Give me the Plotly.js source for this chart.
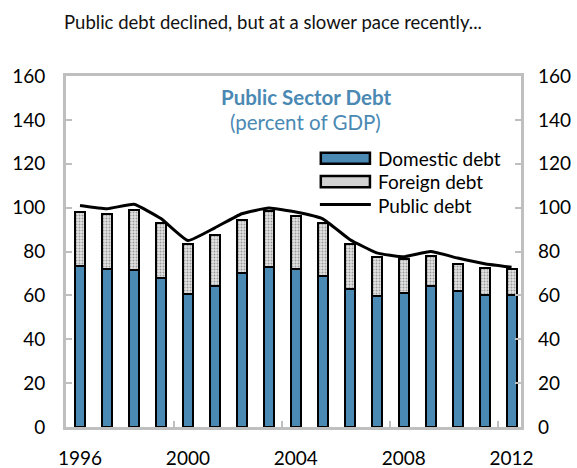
<!DOCTYPE html>
<html>
<head>
<meta charset="utf-8">
<script src="https://cdn.plot.ly/plotly-3.0.1.min.js"></script>
<style>html,body{margin:0;padding:0;background:#fff}#chart{width:577px;height:468px}</style>
</head>
<body>
<div id="chart"></div>
<script>
const years = [1996,1997,1998,1999,2000,2001,2002,2003,2004,2005,2006,2007,2008,2009,2010,2011,2012];
const domesticDebt = [73.6,72.1,71.4,67.9,60.6,64.2,70.3,72.9,72.1,68.8,63.0,59.7,60.9,64.2,62.0,60.0,60.0];
const foreignDebt = [24.6,25.2,27.6,25.1,22.7,23.5,24.2,25.4,24.1,24.2,20.2,17.7,15.5,13.7,12.5,12.4,12.1];
const publicDebt = [101.0,99.5,101.5,95.0,85.0,90.8,97.2,99.8,98.0,94.9,85.5,79.4,77.6,80.0,77.0,74.4,72.8];
const xTickLabels = [1996,2000,2004,2008,2012];
const xTickMarks = [1999.5,2003.5,2007.5,2011.5];
const yTicks = [0,20,40,60,80,100,120,140,160];

const FONT = 'Lato, "Open Sans", sans-serif';
const BLUE = '#4a89b3';
const GRID = '#bfbfbf';

const traces = [
  {type:'bar', x:years, y:domesticDebt, name:'Domestic debt', width:0.37,
   marker:{color:BLUE, line:{color:'#000', width:2}}, showlegend:false, hoverinfo:'skip'},
  {type:'bar', x:years, y:foreignDebt, name:'Foreign debt', width:0.37,
   marker:{color:'#dcdcdc', line:{color:'#000', width:2},
           pattern:{shape:'.', bgcolor:'#e4e4e4', fgcolor:'#9a9a9a', size:3, solidity:0.35}},
   showlegend:false, hoverinfo:'skip'},
  {type:'scatter', mode:'lines', x:years, y:publicDebt, name:'Public debt',
   line:{color:'#000', width:3, shape:'spline', smoothing:0.4}, showlegend:false, hoverinfo:'skip'},
  {type:'scatter', mode:'lines', x:[years[0]], y:[publicDebt[0]], yaxis:'y2', showlegend:false,
   hoverinfo:'skip', line:{color:'rgba(0,0,0,0)'}}
];

const ax = {tickfont:{family:FONT, size:19, color:'#000'}};
const legFont = {family:FONT, size:19, color:'#000'};

const layout = {
  width:577, height:468,
  margin:{l:66, r:56, t:76, b:41},
  paper_bgcolor:'#fff', plot_bgcolor:'#fff',
  barmode:'stack',
  font:{family:FONT, color:'#000'},
  title:{text:'Public debt declined, but at a slower pace recently...',
         font:{family:FONT, size:18.5, color:'#111'},
         x:0.455, xanchor:'center', xref:'paper', y:0.952, yref:'container', yanchor:'middle'},
  xaxis:Object.assign({}, ax, {
    range:[1995.48, 2012.35], tickmode:'array', tickvals:xTickLabels, ticktext:xTickLabels.map(String),
    ticks:'', showgrid:false, zeroline:false, showline:true, linecolor:GRID, linewidth:3, mirror:true,
    ticklabelstandoff:12,
    minor:{tickmode:'array', tickvals:xTickMarks, ticks:'inside', ticklen:6, tickcolor:GRID, tickwidth:2, showgrid:false}
  }),
  yaxis:Object.assign({}, ax, {
    range:[0,160], tickmode:'array', tickvals:yTicks, ticks:'inside', ticklen:6, tickcolor:GRID, tickwidth:2,
    showgrid:false, zeroline:false, showline:true, linecolor:GRID, linewidth:3, mirror:true,
    ticklabelstandoff:14
  }),
  yaxis2:Object.assign({}, ax, {
    overlaying:'y', side:'right', range:[0,160], tickmode:'array', tickvals:yTicks, ticks:'inside',
    ticklen:6, tickcolor:GRID, tickwidth:2, showgrid:false, zeroline:false, showline:false,
    ticklabelstandoff:16
  }),
  annotations:[
    {xref:'paper', yref:'paper', x:0.527, y:0.940, text:'<b>Public Sector Debt</b>', showarrow:false,
     font:{family:FONT, size:20.5, color:BLUE}, xanchor:'center', yanchor:'middle'},
    {xref:'paper', yref:'paper', x:0.527, y:0.869, text:'(percent of GDP)', showarrow:false,
     font:{family:FONT, size:20.5, color:BLUE}, xanchor:'center', yanchor:'middle'},
    {xref:'paper', yref:'paper', x:0.684, y:0.7656, text:'Domestic debt', showarrow:false, borderpad:0,
     font:legFont, xanchor:'left', yanchor:'middle'},
    {xref:'paper', yref:'paper', x:0.684, y:0.699, text:'Foreign debt', showarrow:false, borderpad:0,
     font:legFont, xanchor:'left', yanchor:'middle'},
    {xref:'paper', yref:'paper', x:0.684, y:0.632, text:'Public debt', showarrow:false, borderpad:0,
     font:legFont, xanchor:'left', yanchor:'middle'}
  ],
  shapes:[
    {type:'rect', xref:'paper', yref:'paper', x0:0.560, x1:0.668, y0:0.750, y1:0.781,
     fillcolor:BLUE, line:{color:'#000', width:2.5}},
    {type:'rect', xref:'paper', yref:'paper', x0:0.560, x1:0.668, y0:0.683, y1:0.715,
     fillcolor:'#d2d2d2', line:{color:'#000', width:2.5}},
    {type:'line', xref:'paper', yref:'paper', x0:0.558, x1:0.670, y0:0.634, y1:0.634,
     line:{color:'#000', width:3}}
  ]
};

Plotly.newPlot('chart', traces, layout, {displayModeBar:false, staticPlot:true});
</script>
</body>
</html>
